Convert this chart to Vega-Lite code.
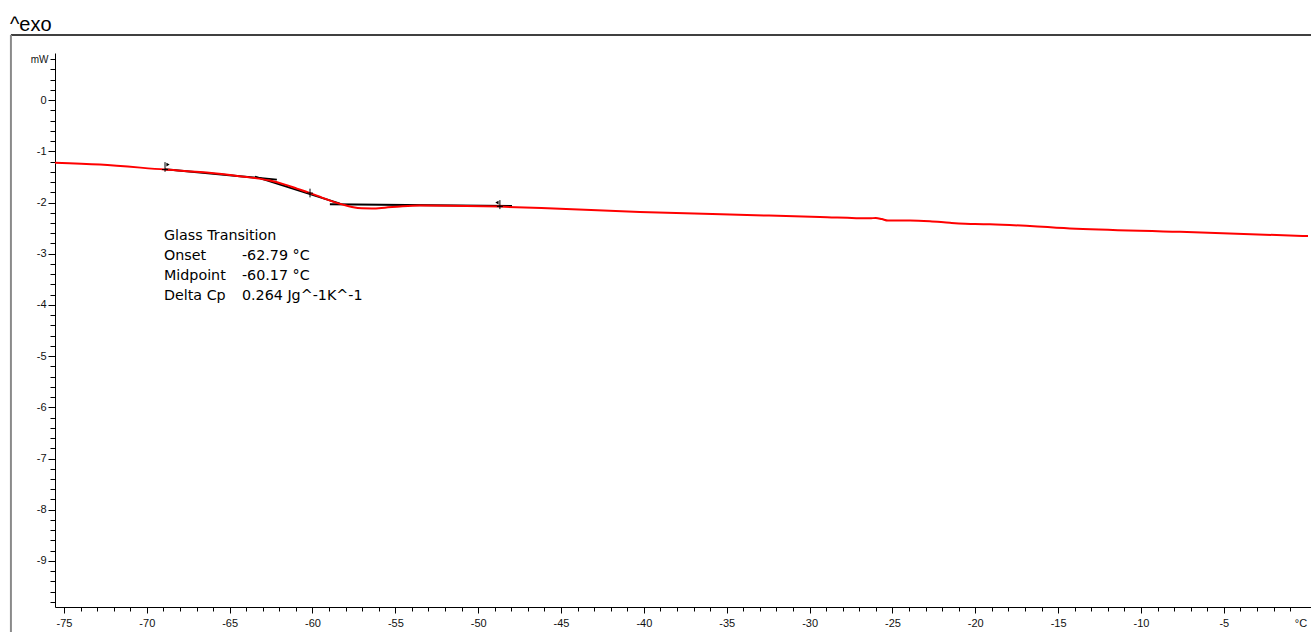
{
  "$schema": "https://vega.github.io/schema/vega-lite/v6.json",
  "width": 1256,
  "height": 554,
  "autosize": {"type": "none"},
  "padding": {"left": 55, "top": 53, "right": 0, "bottom": 25},
  "background": "white",
  "config": {"view": {"stroke": null}},
  "datasets": {
    "curve": [
      {"T": -75.54, "v": -1.221}, {"T": -72.83, "v": -1.26}, {"T": -68.9, "v": -1.357},
      {"T": -66.79, "v": -1.406}, {"T": -64.98, "v": -1.465}, {"T": -63.47, "v": -1.523},
      {"T": -62.57, "v": -1.572}, {"T": -61.66, "v": -1.65}, {"T": -60.94, "v": -1.729},
      {"T": -60.15, "v": -1.816}, {"T": -59.43, "v": -1.904}, {"T": -58.77, "v": -1.982},
      {"T": -58.16, "v": -2.041}, {"T": -57.62, "v": -2.086}, {"T": -57.02, "v": -2.113},
      {"T": -56.41, "v": -2.115}, {"T": -55.63, "v": -2.1}, {"T": -54.72, "v": -2.076},
      {"T": -53.52, "v": -2.057}, {"T": -51.7, "v": -2.061}, {"T": -48.69, "v": -2.08},
      {"T": -45.07, "v": -2.123}, {"T": -40.24, "v": -2.184}, {"T": -34.81, "v": -2.236},
      {"T": -29.38, "v": -2.281}, {"T": -26.36, "v": -2.309}, {"T": -26.0, "v": -2.301},
      {"T": -25.64, "v": -2.324}, {"T": -25.27, "v": -2.353}, {"T": -23.94, "v": -2.353},
      {"T": -22.74, "v": -2.367}, {"T": -21.53, "v": -2.396}, {"T": -20.02, "v": -2.422},
      {"T": -19.12, "v": -2.426}, {"T": -14.29, "v": -2.506}, {"T": -7.65, "v": -2.572},
      {"T": 0.08, "v": -2.656}
    ],
    "tangent": [
      {"seg": "upper", "T": -68.9, "v": -1.35}, {"seg": "upper", "T": -62.15, "v": -1.553},
      {"seg": "inflect", "T": -63.47, "v": -1.494}, {"seg": "inflect", "T": -58.34, "v": -2.021},
      {"seg": "lower", "T": -58.95, "v": -2.035}, {"seg": "lower", "T": -47.96, "v": -2.07}
    ],
    "poles": [
      {"T": -68.9, "top": -1.211, "bot": -1.4},
      {"T": -60.15, "top": -1.73, "bot": -1.9},
      {"T": -48.69, "top": -1.953, "bot": -2.129}
    ],
    "crosses": [
      {"T": -68.9, "v": -1.357},
      {"T": -60.15, "v": -1.816},
      {"T": -48.69, "v": -2.08}
    ],
    "flags": [
      {"T": -68.72, "v": -1.26, "dir": "right"},
      {"T": -48.87, "v": -2.0, "dir": "left"}
    ],
    "frameH": [{"x1": -78.2, "x2": 0.26, "v": 1.2695}],
    "frameV": [{"T": -78.2, "v1": 1.2695, "v2": -10.39}],
    "heading": [{"T": -78.26, "v": 1.348, "txt": "^exo"}],
    "notes": [
      {"T": -68.965, "v": -2.656, "txt": "Glass Transition"},
      {"T": -68.965, "v": -3.047, "txt": "Onset"},
      {"T": -68.965, "v": -3.4375, "txt": "Midpoint"},
      {"T": -68.965, "v": -3.828, "txt": "Delta Cp"},
      {"T": -64.26, "v": -3.047, "txt": "-62.79 °C"},
      {"T": -64.26, "v": -3.4375, "txt": "-60.17 °C"},
      {"T": -64.26, "v": -3.828, "txt": "0.264 Jg^-1K^-1"}
    ]
  },
  "layer": [
    {
      "data": {"name": "tangent"},
      "mark": {"type": "line", "color": "black", "strokeWidth": 2},
      "encoding": {
        "x": {
          "field": "T", "type": "quantitative",
          "scale": {"domain": [-75.54, 0.26], "nice": false, "zero": false},
          "axis": {
            "title": null,
            "tickCount": 500,
            "values": [-75,-74,-73,-72,-71,-70,-69,-68,-67,-66,-65,-64,-63,-62,-61,-60,-59,-58,-57,-56,-55,-54,-53,-52,-51,-50,-49,-48,-47,-46,-45,-44,-43,-42,-41,-40,-39,-38,-37,-36,-35,-34,-33,-32,-31,-30,-29,-28,-27,-26,-25,-24,-23,-22,-21,-20,-19,-18,-17,-16,-15,-14,-13,-12,-11,-10,-9,-8,-7,-6,-5,-4,-3,-2,-1,0],
            "labelExpr": "datum.value == 0 ? '°C' : (datum.value % 5 == 0 ? '' + datum.value : '')",
            "labelFont": "Liberation Sans",
            "labelFontSize": 11,
            "labelColor": "#111111",
            "labelAlign": {"condition": {"test": "datum.value == 0", "value": "right"}, "value": "center"},
            "labelOverlap": false,
            "labelBound": false,
            "labelFlush": false,
            "labelPadding": 4,
            "tickSize": {"condition": {"test": "datum.value % 5 == 0", "value": 6}, "value": 4},
            "tickOpacity": {"condition": {"test": "datum.value == 0", "value": 0}, "value": 1},
            "tickColor": "black",
            "domainColor": "black",
            "grid": false
          }
        },
        "y": {
          "field": "v", "type": "quantitative",
          "scale": {"domain": [-9.9, 0.92], "nice": false, "zero": false},
          "axis": {
            "title": null,
            "tickCount": 500,
            "values": [-9.8,-9.6,-9.4,-9.2,-9,-8.8,-8.6,-8.4,-8.2,-8,-7.8,-7.6,-7.4,-7.2,-7,-6.8,-6.6,-6.4,-6.2,-6,-5.8,-5.6,-5.4,-5.2,-5,-4.8,-4.6,-4.4,-4.2,-4,-3.8,-3.6,-3.4,-3.2,-3,-2.8,-2.6,-2.4,-2.2,-2,-1.8,-1.6,-1.4,-1.2,-1,-0.8,-0.6,-0.4,-0.2,0,0.2,0.4,0.6,0.8],
            "labelExpr": "abs(datum.value - 0.8) < 0.01 ? 'mW' : (abs(datum.value - round(datum.value)) < 0.01 ? '' + round(datum.value) : '')",
            "labelFont": "Liberation Sans",
            "labelFontSize": {"condition": {"test": "abs(datum.value - 0.8) < 0.01", "value": 10}, "value": 11},
            "labelColor": "#111111",
            "labelPadding": 2,
            "labelOverlap": false,
            "labelBound": false,
            "labelFlush": false,
            "tickSize": {"condition": {"test": "abs(datum.value - round(datum.value)) < 0.01", "value": 7}, "value": 5},
            "tickColor": "black",
            "domainColor": "black",
            "grid": false
          }
        },
        "detail": {"field": "seg"}
      }
    },
    {
      "data": {"name": "curve"},
      "mark": {"type": "line", "color": "#ff0000", "strokeWidth": 2, "interpolate": "monotone"},
      "encoding": {
        "x": {"field": "T", "type": "quantitative"},
        "y": {"field": "v", "type": "quantitative"}
      }
    },
    {
      "data": {"name": "poles"},
      "mark": {"type": "rule", "color": "black", "strokeWidth": 1},
      "encoding": {
        "x": {"field": "T", "type": "quantitative"},
        "y": {"field": "top", "type": "quantitative"},
        "y2": {"field": "bot"}
      }
    },
    {
      "data": {"name": "crosses"},
      "mark": {"type": "point", "shape": "M-1,0H1", "size": 36, "stroke": "black", "strokeWidth": 1, "filled": false, "opacity": 1},
      "encoding": {
        "x": {"field": "T", "type": "quantitative"},
        "y": {"field": "v", "type": "quantitative"}
      }
    },
    {
      "data": {"name": "flags"},
      "mark": {"type": "point", "filled": true, "color": "black", "size": 14, "opacity": 1},
      "encoding": {
        "x": {"field": "T", "type": "quantitative"},
        "y": {"field": "v", "type": "quantitative"},
        "shape": {"field": "dir", "type": "nominal", "scale": {"domain": ["right", "left"], "range": ["triangle-right", "triangle-left"]}, "legend": null}
      }
    },
    {
      "data": {"name": "frameH"},
      "mark": {"type": "rule", "color": "black", "strokeWidth": 1.5},
      "encoding": {
        "x": {"field": "x1", "type": "quantitative"},
        "x2": {"field": "x2"},
        "y": {"field": "v", "type": "quantitative"}
      }
    },
    {
      "data": {"name": "frameV"},
      "mark": {"type": "rule", "color": "#8a8a8a", "strokeWidth": 2},
      "encoding": {
        "x": {"field": "T", "type": "quantitative"},
        "y": {"field": "v1", "type": "quantitative"},
        "y2": {"field": "v2"}
      }
    },
    {
      "data": {"name": "heading"},
      "mark": {"type": "text", "align": "left", "baseline": "alphabetic", "font": "Liberation Sans", "fontSize": 20, "color": "black"},
      "encoding": {
        "x": {"field": "T", "type": "quantitative"},
        "y": {"field": "v", "type": "quantitative"},
        "text": {"field": "txt"}
      }
    },
    {
      "data": {"name": "notes"},
      "mark": {"type": "text", "align": "left", "baseline": "middle", "font": "DejaVu Sans", "fontSize": 14.3, "color": "black"},
      "encoding": {
        "x": {"field": "T", "type": "quantitative"},
        "y": {"field": "v", "type": "quantitative"},
        "text": {"field": "txt"}
      }
    }
  ]
}
